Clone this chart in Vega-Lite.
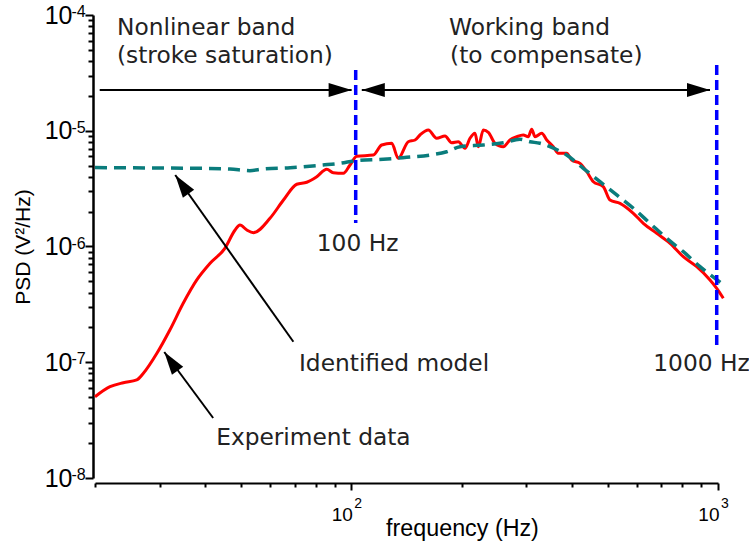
{
  "$schema": "https://vega.github.io/schema/vega-lite/v6.json",
  "width": 623,
  "height": 463,
  "autosize": {"type": "none"},
  "padding": {"left": 95, "top": 15, "right": 31, "bottom": 67},
  "background": "white",
  "config": {"view": {"stroke": null}},
  "datasets": {
    "red": [
      {"f": 20, "v": 5.04e-8}, {"f": 21.98, "v": 6.15e-8}, {"f": 23.9, "v": 6.66e-8}, {"f": 25.99, "v": 7.03e-8},
      {"f": 27.1, "v": 8.03e-8}, {"f": 29.5, "v": 1.195e-7}, {"f": 32.0, "v": 1.899e-7}, {"f": 34.8, "v": 3.23e-7},
      {"f": 37.9, "v": 5.14e-7}, {"f": 41.2, "v": 7.16e-7}, {"f": 45.2, "v": 9.65e-7}, {"f": 48.2, "v": 1.388e-6},
      {"f": 49.7, "v": 1.534e-6}, {"f": 51.9, "v": 1.388e-6}, {"f": 54.1, "v": 1.316e-6}, {"f": 60.0, "v": 1.752e-6},
      {"f": 65.3, "v": 2.52e-6}, {"f": 71.0, "v": 3.45e-6}, {"f": 75.6, "v": 3.59e-6}, {"f": 80.5, "v": 4.01e-6},
      {"f": 85.7, "v": 4.65e-6}, {"f": 89.3, "v": 4.34e-6}, {"f": 95.1, "v": 4.29e-6}, {"f": 99.2, "v": 5.06e-6},
      {"f": 103.4, "v": 6.02e-6}, {"f": 114.8, "v": 6.17e-6}, {"f": 121.0, "v": 7.53e-6}, {"f": 128.9, "v": 7.79e-6},
      {"f": 134.3, "v": 5.78e-6}, {"f": 143.0, "v": 8.04e-6}, {"f": 149.2, "v": 8.32e-6}, {"f": 153.9, "v": 9.19e-6},
      {"f": 162.2, "v": 1.015e-5}, {"f": 170.9, "v": 8.61e-6}, {"f": 180.1, "v": 9.01e-6}, {"f": 187.8, "v": 7.88e-6},
      {"f": 195.8, "v": 8.04e-6}, {"f": 204.2, "v": 7.05e-6}, {"f": 210.7, "v": 8.61e-6}, {"f": 217.4, "v": 9.51e-6},
      {"f": 222.0, "v": 7.28e-6}, {"f": 229.1, "v": 1.015e-5}, {"f": 236.4, "v": 9.7e-6}, {"f": 246.6, "v": 7.79e-6},
      {"f": 259.7, "v": 7.28e-6}, {"f": 270.8, "v": 8.32e-6}, {"f": 282.5, "v": 8.88e-6}, {"f": 294.4, "v": 9.19e-6},
      {"f": 303.8, "v": 8.88e-6}, {"f": 310.4, "v": 1.029e-5}, {"f": 317.0, "v": 8.88e-6}, {"f": 330.6, "v": 9.51e-6},
      {"f": 341.2, "v": 8.32e-6}, {"f": 355.5, "v": 7.28e-6}, {"f": 366.8, "v": 6.39e-6}, {"f": 386.6, "v": 6.39e-6},
      {"f": 399.0, "v": 5.59e-6}, {"f": 420.4, "v": 5.23e-6}, {"f": 438.6, "v": 4.43e-6}, {"f": 457.2, "v": 3.63e-6},
      {"f": 486.6, "v": 3.29e-6}, {"f": 507.6, "v": 2.52e-6}, {"f": 540.6, "v": 2.36e-6}, {"f": 587.6, "v": 1.936e-6},
      {"f": 625.6, "v": 1.586e-6}, {"f": 680.6, "v": 1.3e-6}, {"f": 739.8, "v": 1.066e-6}, {"f": 804.2, "v": 8.17e-7},
      {"f": 875.0, "v": 6.69e-7}, {"f": 951.0, "v": 5.14e-7}, {"f": 992, "v": 4.35e-7}, {"f": 1034, "v": 3.57e-7}
    ],
    "teal": [
      {"f": 20, "v": 4.81e-6}, {"f": 28.25, "v": 4.77e-6}, {"f": 38.7, "v": 4.74e-6}, {"f": 46.7, "v": 4.67e-6},
      {"f": 52.9, "v": 4.52e-6}, {"f": 57.4, "v": 4.67e-6}, {"f": 68.1, "v": 4.8e-6}, {"f": 83.7, "v": 5.06e-6},
      {"f": 93.1, "v": 5.23e-6}, {"f": 103.6, "v": 5.53e-6}, {"f": 122.2, "v": 5.67e-6}, {"f": 141.6, "v": 5.9e-6},
      {"f": 163.9, "v": 6.17e-6}, {"f": 182.0, "v": 6.59e-6}, {"f": 197.9, "v": 7.28e-6}, {"f": 229.1, "v": 7.53e-6},
      {"f": 259.7, "v": 7.88e-6}, {"f": 288.3, "v": 8.44e-6}, {"f": 307.1, "v": 8.04e-6}, {"f": 327.0, "v": 7.79e-6},
      {"f": 348.2, "v": 7.28e-6}, {"f": 386.6, "v": 6.17e-6}, {"f": 429.2, "v": 4.74e-6}, {"f": 476.6, "v": 3.63e-6},
      {"f": 529.4, "v": 2.79e-6}, {"f": 587.6, "v": 2.14e-6}, {"f": 652.6, "v": 1.586e-6}, {"f": 724.6, "v": 1.177e-6},
      {"f": 804.2, "v": 9.02e-7}, {"f": 893.2, "v": 6.69e-7}, {"f": 1023, "v": 4.81e-7}
    ],
    "bands": [
      {"f": 102.8, "v": 3.35e-5, "v2": 1.596e-6},
      {"f": 992, "v": 3.7e-5, "v2": 1.41e-7}
    ],
    "arrows": [
      {"f": 20.6, "f2": 100.2, "v": 2.25e-5, "v2": 2.25e-5},
      {"f": 106.8, "f2": 951, "v": 2.25e-5, "v2": 2.25e-5},
      {"f": 69.5, "f2": 33.1, "v": 1.504e-7, "v2": 4.15e-6},
      {"f": 42.0, "f2": 30.9, "v": 3.3e-8, "v2": 1.226e-7}
    ],
    "headsRight": [{"f": 100.2, "v": 2.25e-5}, {"f": 951, "v": 2.25e-5}],
    "headsLeft": [{"f": 106.8, "v": 2.25e-5}],
    "headsDiag": [{"f": 33.1, "v": 4.15e-6}, {"f": 30.9, "v": 1.226e-7}],
    "labels": [
      {"f": 22.96, "v": 6.72e-5, "label": "Nonlinear band"},
      {"f": 22.96, "v": 3.85e-5, "label": "(stroke saturation)"},
      {"f": 184.7, "v": 6.72e-5, "label": "Working band"},
      {"f": 185.9, "v": 3.85e-5, "label": "(to compensate)"},
      {"f": 80.5, "v": 9.2e-7, "label": "100 Hz"},
      {"f": 666, "v": 8.45e-8, "label": "1000 Hz"},
      {"f": 72.0, "v": 8.45e-8, "label": "Identified model"},
      {"f": 42.8, "v": 1.93e-8, "label": "Experiment data"}
    ],
    "yexp": [
      {"f": 20, "v": 1e-4, "e": "-4"}, {"f": 20, "v": 1e-5, "e": "-5"}, {"f": 20, "v": 1e-6, "e": "-6"},
      {"f": 20, "v": 1e-7, "e": "-7"}, {"f": 20, "v": 1e-8, "e": "-8"}
    ],
    "xexp": [{"f": 100, "v": 1e-8, "e": "2"}, {"f": 1000, "v": 1e-8, "e": "3"}]
  },
  "encoding": {
    "x": {
      "field": "f", "type": "quantitative",
      "scale": {"type": "log", "domain": [20, 1000], "nice": false},
      "axis": {
        "title": "frequency (Hz)",
        "values": [20, 30, 40, 50, 60, 70, 80, 90, 100, 200, 300, 400, 500, 600, 700, 800, 900, 1000],
        "labelExpr": "datum.value == 100 || datum.value == 1000 ? '10' : ''",
        "labelFont": "Liberation Sans", "labelFontSize": 19, "labelColor": "black",
        "labelAlign": "right", "labelOffset": 1, "labelBaseline": "alphabetic",
        "labelPadding": 30, "labelOverlap": false, "labelFlush": false,
        "tickSize": {"condition": {"test": "datum.value == 100 || datum.value == 1000", "value": 7}, "value": 4},
        "tickWidth": 2, "tickColor": "black",
        "domainColor": "black", "domainWidth": 2, "offset": 5, "grid": false,
        "titleFont": "Liberation Sans", "titleFontSize": 23.3, "titleFontWeight": "normal", "titleColor": "black",
        "titleX": 367, "titleY": 52, "titleBaseline": "alphabetic"
      }
    },
    "y": {
      "field": "v", "type": "quantitative",
      "scale": {"type": "log", "domain": [1e-8, 1e-4], "nice": false},
      "axis": {
        "title": "PSD (V²/Hz)",
        "values": [1e-8, 2e-8, 3e-8, 4e-8, 5e-8, 6e-8, 7e-8, 8e-8, 9e-8,
                   1e-7, 2e-7, 3e-7, 4e-7, 5e-7, 6e-7, 7e-7, 8e-7, 9e-7,
                   1e-6, 2e-6, 3e-6, 4e-6, 5e-6, 6e-6, 7e-6, 8e-6, 9e-6,
                   1e-5, 2e-5, 3e-5, 4e-5, 5e-5, 6e-5, 7e-5, 8e-5, 9e-5, 1e-4],
        "labelExpr": "indexof([1e-8, 1e-7, 1e-6, 1e-5, 1e-4], datum.value) >= 0 ? '10' : ''",
        "labelFont": "Liberation Sans", "labelFontSize": 25, "labelColor": "black",
        "labelPadding": 13, "labelOverlap": false, "labelFlush": false,
        "tickSize": {"condition": {"test": "indexof([1e-8, 1e-7, 1e-6, 1e-5, 1e-4], datum.value) >= 0", "value": 8}, "value": 5},
        "tickWidth": 2, "tickColor": "black",
        "domainColor": "black", "domainWidth": 2.5, "offset": 2, "grid": false,
        "titleFont": "Liberation Sans", "titleFontSize": 21, "titleFontWeight": "normal", "titleColor": "black",
        "titlePadding": 11
      }
    }
  },
  "layer": [
    {
      "data": {"name": "red"},
      "mark": {"type": "line", "color": "#ff0000", "strokeWidth": 3, "interpolate": "monotone"}
    },
    {
      "data": {"name": "teal"},
      "mark": {"type": "line", "color": "#0a7c7c", "strokeWidth": 3.5, "strokeDash": [12, 7], "interpolate": "monotone"}
    },
    {
      "data": {"name": "bands"},
      "mark": {"type": "rule", "color": "#0000ff", "strokeWidth": 3.5, "strokeDash": [10, 5]},
      "encoding": {"y2": {"field": "v2"}}
    },
    {
      "data": {"name": "arrows"},
      "mark": {"type": "rule", "color": "black", "strokeWidth": 2},
      "encoding": {"x2": {"field": "f2"}, "y2": {"field": "v2"}}
    },
    {
      "data": {"name": "headsRight"},
      "mark": {"type": "point", "shape": "M0,0L-2,-0.6L-2,0.6Z", "size": 529, "filled": true, "color": "black", "opacity": 1, "strokeWidth": 0, "angle": 0}
    },
    {
      "data": {"name": "headsLeft"},
      "mark": {"type": "point", "shape": "M0,0L-2,-0.6L-2,0.6Z", "size": 529, "filled": true, "color": "black", "opacity": 1, "strokeWidth": 0, "angle": 180}
    },
    {
      "data": {"name": "headsDiag"},
      "mark": {"type": "point", "shape": "M0,0L-2,-0.6L-2,0.6Z", "size": 529, "filled": true, "color": "black", "opacity": 1, "strokeWidth": 0, "angle": 234.7}
    },
    {
      "data": {"name": "labels"},
      "mark": {"type": "text", "align": "left", "baseline": "alphabetic", "font": "DejaVu Sans", "fontSize": 23.3, "color": "#222222"},
      "encoding": {"text": {"field": "label", "type": "nominal"}}
    },
    {
      "data": {"name": "yexp"},
      "mark": {"type": "text", "align": "left", "baseline": "alphabetic", "font": "Liberation Sans", "fontSize": 16, "color": "black", "dx": -23.5, "dy": 2},
      "encoding": {"text": {"field": "e", "type": "nominal"}}
    },
    {
      "data": {"name": "xexp"},
      "mark": {"type": "text", "align": "left", "baseline": "alphabetic", "font": "Liberation Sans", "fontSize": 14, "color": "black", "dx": 3, "dy": 30},
      "encoding": {"text": {"field": "e", "type": "nominal"}}
    }
  ]
}
